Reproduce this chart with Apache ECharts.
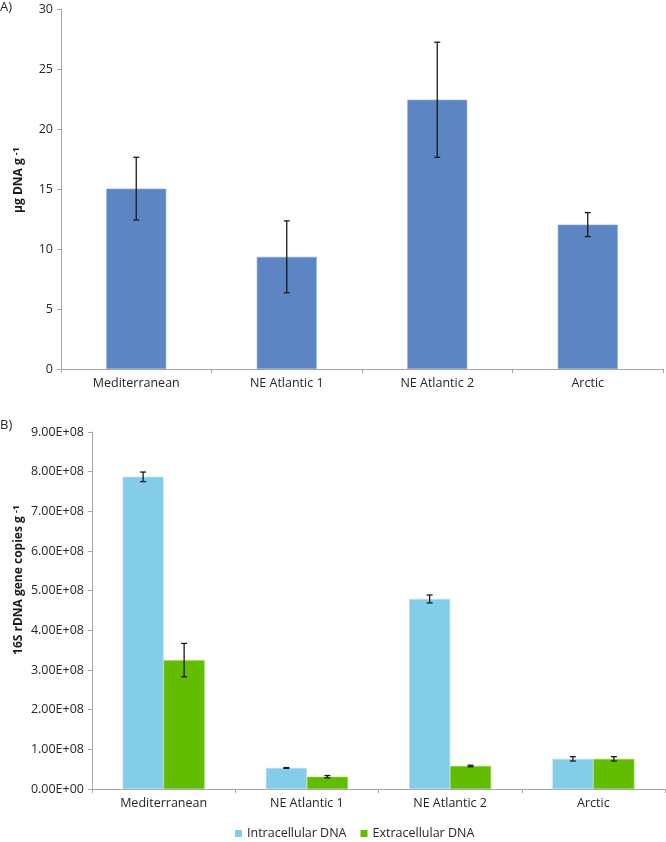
<!DOCTYPE html>
<html>
<head>
<meta charset="utf-8">
<script src="https://cdn.jsdelivr.net/npm/echarts@6/dist/echarts.min.js"></script>
<style>html,body{margin:0;padding:0;background:#fff;}#c{width:666px;height:842px;}</style>
</head>
<body>
<div id="c"></div>
<script>
const categories = ['Mediterranean', 'NE Atlantic 1', 'NE Atlantic 2', 'Arctic'];
// Panel A: total DNA (µg DNA g-1)
const dnaValues = [15.05, 9.36, 22.47, 12.05];
const dnaErrors = [2.62, 3.0, 4.8, 1.0];
const ticksA = ['0', '5', '10', '15', '20', '25', '30'];
// Panel B: 16S rDNA gene copies g-1
const intraValues = [7.87e8, 0.53e8, 4.79e8, 0.76e8];
const intraErrors = [0.12e8, 0.01e8, 0.10e8, 0.055e8];
const extraValues = [3.25e8, 0.31e8, 0.58e8, 0.76e8];
const extraErrors = [0.42e8, 0.03e8, 0.02e8, 0.055e8];
const ticksB = ['0.00E+00', '1.00E+08', '2.00E+08', '3.00E+08', '4.00E+08', '5.00E+08', '6.00E+08', '7.00E+08', '8.00E+08', '9.00E+08'];

const FONT = '"Open Sans", "Liberation Sans", sans-serif';
const FS = 12.5;
const AXIS_COLOR = '#a6a6a6';
const TEXT_COLOR = '#262626';
const barWidthB = 41;

function errRender(offset) {
  return function (params, api) {
    const i = api.value(0), v = api.value(1), e = api.value(2);
    const top = api.coord([i, v + e]);
    const bot = api.coord([i, v - e]);
    const x = top[0] + offset;
    const cap = 3;
    const style = { stroke: '#1a1a1a', lineWidth: 1.3 };
    return {
      type: 'group',
      children: [
        { type: 'line', shape: { x1: x, y1: top[1], x2: x, y2: bot[1] }, style: style },
        { type: 'line', shape: { x1: x - cap, y1: top[1], x2: x + cap, y2: top[1] }, style: style },
        { type: 'line', shape: { x1: x - cap, y1: bot[1], x2: x + cap, y2: bot[1] }, style: style }
      ]
    };
  };
}

const catAxis = (gi) => ({
  type: 'category', gridIndex: gi, data: categories,
  axisLine: { lineStyle: { color: AXIS_COLOR, width: 1 } },
  axisTick: { show: true, length: 4, lineStyle: { color: AXIS_COLOR } },
  axisLabel: { color: TEXT_COLOR, fontFamily: FONT, fontSize: FS, margin: 8 },
  splitLine: { show: false }
});

const valAxis = (gi, max, interval, ticks) => ({
  type: 'value', gridIndex: gi, min: 0, max: max, interval: interval,
  axisLine: { show: true, lineStyle: { color: AXIS_COLOR } },
  axisTick: { show: true, length: 4, lineStyle: { color: AXIS_COLOR } },
  axisLabel: { color: TEXT_COLOR, fontFamily: FONT, fontSize: FS, margin: 8, formatter: (v, i) => ticks[i] },
  splitLine: { show: false }
});

const titleRich = {
  b: { fontWeight: 'bold', fontSize: 12, fontFamily: FONT, fill: '#1a1a1a', color: '#1a1a1a' },
  s: { fontWeight: 'bold', fontSize: 9, fontFamily: FONT, fill: '#1a1a1a', color: '#1a1a1a', verticalAlign: 'top', padding: [0, 0, 6, 0] }
};

const chart = echarts.init(document.getElementById('c'), null, { renderer: 'canvas' });
chart.setOption({
  animation: false,
  backgroundColor: '#ffffff',
  textStyle: { fontFamily: FONT },
  graphic: [
    { type: 'text', left: 0, top: 1, style: { text: 'A)', font: '13px ' + FONT, fill: TEXT_COLOR } },
    { type: 'text', left: 0, top: 419, style: { text: 'B)', font: '13px ' + FONT, fill: TEXT_COLOR } },
    { type: 'text', x: 19, y: 180, rotation: Math.PI / 2,
      style: { text: '{b|µg DNA g }{s|-1}', rich: titleRich, align: 'center', verticalAlign: 'middle' } },
    { type: 'text', x: 19, y: 580, rotation: Math.PI / 2,
      style: { text: '{b|16S rDNA gene copies g }{s|-1}', rich: titleRich, align: 'center', verticalAlign: 'middle' } }
  ],
  grid: [
    { left: 61, right: 3, top: 9.5, height: 359.5 },
    { left: 92, right: 1, top: 432, height: 357 }
  ],
  legend: {
    left: 230, top: 822,
    icon: 'rect', itemWidth: 7, itemHeight: 7, itemGap: 14,
    itemStyle: { borderWidth: 0 },
    textStyle: { color: TEXT_COLOR, fontFamily: FONT, fontSize: FS },
    data: ['Intracellular DNA', 'Extracellular DNA']
  },
  xAxis: [catAxis(0), catAxis(1)],
  yAxis: [valAxis(0, 30, 5, ticksA), valAxis(1, 9e8, 1e8, ticksB)],
  series: [
    {
      name: 'Total DNA', type: 'bar', xAxisIndex: 0, yAxisIndex: 0, data: dnaValues,
      barWidth: 60, itemStyle: { color: '#5b86c3', borderColor: '#8fb0dc', borderWidth: 0.6 }
    },
    {
      type: 'custom', xAxisIndex: 0, yAxisIndex: 0, renderItem: errRender(0),
      data: dnaValues.map((v, i) => [i, v, dnaErrors[i]]), z: 5
    },
    {
      name: 'Intracellular DNA', type: 'bar', xAxisIndex: 1, yAxisIndex: 1, data: intraValues,
      barWidth: barWidthB, barGap: '0%', itemStyle: { color: '#84cde8', borderColor: '#b6e2f2', borderWidth: 0.6 }
    },
    {
      name: 'Extracellular DNA', type: 'bar', xAxisIndex: 1, yAxisIndex: 1, data: extraValues,
      barWidth: barWidthB, barGap: '0%', itemStyle: { color: '#62bd00', borderColor: '#92d64a', borderWidth: 0.6 }
    },
    {
      type: 'custom', xAxisIndex: 1, yAxisIndex: 1, renderItem: errRender(-barWidthB / 2),
      data: intraValues.map((v, i) => [i, v, intraErrors[i]]), z: 5
    },
    {
      type: 'custom', xAxisIndex: 1, yAxisIndex: 1, renderItem: errRender(barWidthB / 2),
      data: extraValues.map((v, i) => [i, v, extraErrors[i]]), z: 5
    }
  ]
});
</script>
</body>
</html>
